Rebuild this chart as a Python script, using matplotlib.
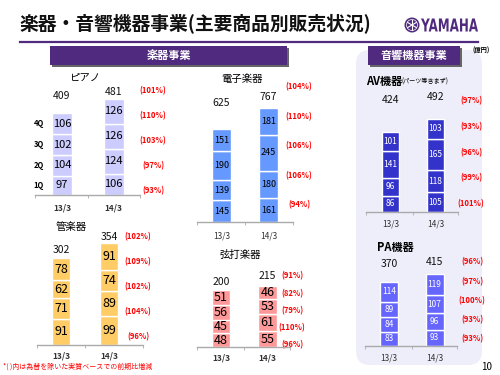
import numpy as np
import matplotlib
matplotlib.use('Agg')
import matplotlib.pyplot as plt
from matplotlib.patches import FancyBboxPatch, Rectangle, Circle, PathPatch
from matplotlib.textpath import TextPath
from matplotlib.font_manager import FontProperties
from matplotlib.transforms import Affine2D

plt.rcParams['font.family'] = ['Noto Sans CJK JP', 'DejaVu Sans']

### data (億円), quarters 1Q..4Q from bottom
years = ['13/3', '14/3']
quarters = ['1Q', '2Q', '3Q', '4Q']

piano_13 = [97, 104, 102, 106]
piano_14 = [106, 124, 126, 126]
piano_tot = [409, 481]
piano_pct = ['(93%)', '(97%)', '(103%)', '(110%)', '(101%)']

elec_13 = [145, 139, 190, 151]
elec_14 = [161, 180, 245, 181]
elec_tot = [625, 767]
elec_pct = ['(94%)', '(106%)', '(106%)', '(110%)', '(104%)']

wind_13 = [91, 71, 62, 78]
wind_14 = [99, 89, 74, 91]
wind_tot = [302, 354]
wind_pct = ['(96%)', '(104%)', '(102%)', '(109%)', '(102%)']

string_13 = [48, 45, 56, 51]
string_14 = [55, 61, 53, 46]
string_tot = [200, 215]
string_pct = ['(96%)', '(110%)', '(79%)', '(82%)', '(91%)']

av_13 = [86, 96, 141, 101]
av_14 = [105, 118, 165, 103]
av_tot = [424, 492]
av_pct = ['(101%)', '(99%)', '(96%)', '(93%)', '(97%)']

pa_13 = [83, 84, 89, 114]
pa_14 = [93, 96, 107, 119]
pa_tot = [370, 415]
pa_pct = ['(93%)', '(93%)', '(100%)', '(97%)', '(96%)']

PURPLE = '#4F2A7E'

fig = plt.figure(figsize=(5, 3.75), dpi=100)
fig.patch.set_facecolor('white')

# background axes in pixel units (y down)
bg = fig.add_axes([0, 0, 1, 1])
bg.set_xlim(0, 500)
bg.set_ylim(375, 0)
bg.axis('off')

# light panel behind the audio charts
bg.add_patch(FancyBboxPatch((356, 50), 126, 315, boxstyle='round,pad=0,rounding_size=14',
                            fc='#EEEEFA', ec='none'))

# slide title + rule
bg.text(19, 23, '楽器・音響機器事業(主要商品別販売状況)', fontsize=13.5, fontweight='bold',
        ha='left', va='center', color='#111111')
bg.plot([20, 478], [42, 42], color=PURPLE, lw=1.6)

# yamaha logo
bg.add_patch(Circle((412, 25), 7.5, fc=PURPLE, ec='none'))
bg.add_patch(Circle((412, 25), 5.5, fc='none', ec='white', lw=0.5))
for a in [30, 90, 150]:
    r = np.deg2rad(a)
    bg.plot([412 - 5*np.cos(r), 412 + 5*np.cos(r)], [25 - 5*np.sin(r), 25 + 5*np.sin(r)],
            color='white', lw=0.8)
tp = TextPath((0, 0), 'YAMAHA', size=10, prop=FontProperties(family='DejaVu Sans', weight='bold'))
bb = tp.get_extents()
tr = Affine2D().translate(-bb.x0, -bb.y0).scale(57 / bb.width, -13 / bb.height).translate(421, 31.5)
bg.add_patch(PathPatch(tr.transform_path(tp), fc=PURPLE, ec='none'))


def header(x0, x1, label):
    bg.add_patch(Rectangle((x0 + 2, 48), x1 - x0, 19, fc='#666666', ec='none'))
    bg.add_patch(Rectangle((x0, 46), x1 - x0, 19, fc=PURPLE, ec='none'))
    bg.text((x0 + x1) / 2, 55.5, label, color='white', fontsize=8, fontweight='bold',
            ha='center', va='center')


header(50, 287, '楽器事業')
header(368, 460, '音響機器事業')
bg.text(481, 50, '(億円)', fontsize=4.5, fontweight='bold', ha='center', va='center')


def chart(v13, v14, tot, pct, color, left, right, c1, c2, bw, base, scale,
          tot_y, pct_x, pct_y, tick_d, tick_bold=False, val_size=8, val_color='black',
          qlabels=False):
    H = 140
    ax = fig.add_axes([left / 500, 1 - base / 375, (right - left) / 500, H / 375])
    ax.patch.set_alpha(0)
    unit = c2 - c1
    x0, x1 = (left - c1) / unit, 1 + (right - c2) / unit
    ax.set_xlim(x0, x1)
    ax.set_ylim(0, H / scale)
    bottom = np.zeros(2)
    for i in range(4):
        vals = np.array([v13[i], v14[i]])
        ax.bar([0, 1], vals, bottom=bottom, width=bw / unit, color=color,
               edgecolor='white', linewidth=1)
        for x, v, b in zip([0, 1], vals, bottom):
            ax.text(x, b + v / 2, str(v), ha='center', va='center', fontsize=val_size,
                    color=val_color)
        if qlabels:
            ax.text((39 - c1) / unit, bottom[0] + vals[0] / 2, quarters[i], ha='center',
                    va='center', fontsize=5.5, fontweight='bold')
        bottom += vals
    for s in ['top', 'right', 'left']:
        ax.spines[s].set_visible(False)
    ax.spines['bottom'].set_color('#AAAAAA')
    ax.spines['bottom'].set_linewidth(1)
    ax.set_yticks([])
    ax.set_xticks([0, 1])
    ax.set_xticklabels(years, fontsize=6, fontweight='bold' if tick_bold else 'normal',
                       color='#333333')
    ax.tick_params(axis='x', length=0, pad=(tick_d - 4) * 0.72)
    ax.set_xticks([x0 + 0.005, 0.5, x1 - 0.005], minor=True)
    ax.tick_params(axis='x', which='minor', length=2.5, color='#AAAAAA', direction='out')
    # totals and ratios
    for c, t, y in zip([c1, c2], tot, tot_y):
        bg.text(c, y, str(t), ha='center', va='center', fontsize=7.5, color='#111111')
    for p, y in zip(pct, np.linspace(pct_y[0], pct_y[1], 5)):
        bg.text(pct_x, y, p, ha='center', va='center', fontsize=5.5, color='#FF0000',
                fontweight='bold')
    return ax


chart(piano_13, piano_14, piano_tot, piano_pct, '#CCCCFF', 35, 140, 62, 113.5, 20, 195, 0.2,
      (96, 92), 153, (191, 91), 12, tick_bold=True, val_size=8, qlabels=True)
chart(elec_13, elec_14, elec_tot, elec_pct, '#6699FF', 197, 293, 221.5, 268.5, 19, 222, 0.149,
      (103, 97), 299, (205, 87), 13, val_size=6.5)
chart(wind_13, wind_14, wind_tot, wind_pct, '#FFCC66', 37, 143, 61, 109, 18.5, 345, 0.288,
      (250, 237), 138, (337, 237), 11, tick_bold=True, val_size=9)
chart(string_13, string_14, string_tot, string_pct, '#FF9999', 197, 290, 221, 267.5, 18.5, 347,
      0.285, (282, 276), 292, (345, 276), 11, tick_bold=True, val_size=9)
chart(av_13, av_14, av_tot, av_pct, '#3333CC', 366, 458, 390.5, 435.5, 17.5, 212, 0.189,
      (100, 97), 471, (204, 101), 11, val_size=6, val_color='white')
chart(pa_13, pa_14, pa_tot, pa_pct, '#6666FF', 365, 457, 389, 434.5, 18, 346, 0.173,
      (264, 262), 472, (339, 262), 12, val_size=6, val_color='white')

# chart titles
bg.text(85, 78, 'ピアノ', fontsize=7.5, ha='center', va='center')
bg.text(242, 79, '電子楽器', fontsize=7.5, ha='center', va='center')
bg.text(71, 227, '管楽器', fontsize=7.5, ha='center', va='center')
bg.text(240, 255, '弦打楽器', fontsize=7.5, ha='center', va='center')
bg.text(366, 81, 'AV機器', fontsize=8, fontweight='bold', ha='left', va='center')
bg.text(402, 82, '(パーツ等含まず)', fontsize=4.4, ha='left', va='center')
bg.text(395, 247, 'PA機器', fontsize=8, fontweight='bold', ha='center', va='center')

# footnote + page number
bg.text(3, 367, '*( )内は為替を除いた実質ベースでの前期比増減', fontsize=5, color='#FF0000',
        ha='left', va='center')
bg.text(487, 367, '10', fontsize=7, ha='center', va='center')

fig.savefig('out.png', dpi=100)
